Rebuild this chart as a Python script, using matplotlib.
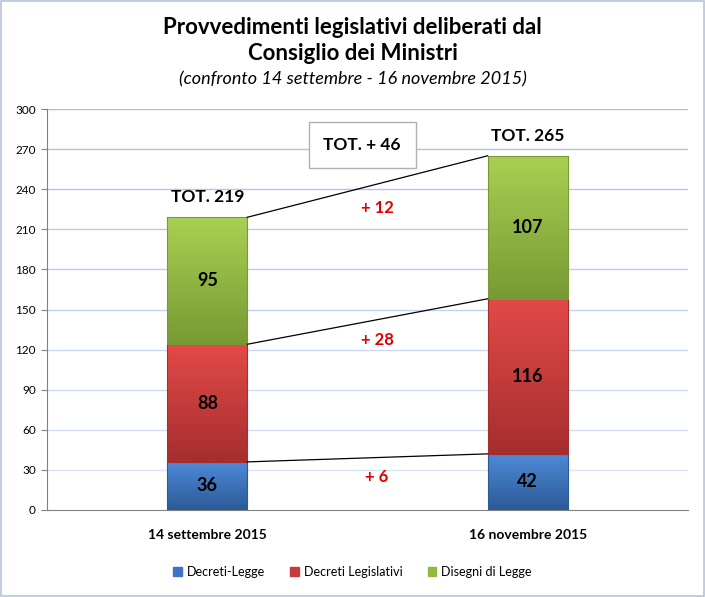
import numpy as np
import matplotlib.pyplot as plt
from matplotlib.colors import LinearSegmentedColormap

plt.rcParams['font.family'] = ['Lato', 'DejaVu Sans']

categorie = ["14 settembre 2015", "16 novembre 2015"]
serie = ["Decreti-Legge", "Decreti Legislativi", "Disegni di Legge"]
decreti_legge = [36, 42]
decreti_legislativi = [88, 116]
disegni_legge = [95, 107]
differenze = ["+ 6", "+ 28", "+ 12"]
pos_differenze = [25, 127, 226]
yticks = list(range(0, 301, 30))

colori = [("#4e8bd8", "#2c5a98"), ("#e24a48", "#a62e2e"), ("#a9d052", "#789a34")]
legenda_col = ["#3f74c4", "#c63c3a", "#92b840"]

fig = plt.figure(figsize=(7.05, 5.97), dpi=100)
ax = fig.add_axes([47 / 705, 87 / 597, 641 / 705, 401 / 597])

# bordo della figura
fig.patches.append(plt.Rectangle((0.002, 0.002), 0.996, 0.996, transform=fig.transFigure,
                                 fill=False, edgecolor="#b8c4d8", linewidth=1.2))

x = np.arange(len(categorie))
larg = 0.25
valori = [decreti_legge, decreti_legislativi, disegni_legge]
basi = np.zeros(len(categorie))

grad = np.linspace(1, 0, 100).reshape(-1, 1)
sommita = []
for k, vals in enumerate(valori):
    cmap = LinearSegmentedColormap.from_list("g%d" % k, [colori[k][1], colori[k][0]])
    barre = ax.bar(x, vals, larg, bottom=basi, color=legenda_col[k], edgecolor="none",
                   label=serie[k], zorder=3)
    for b in barre:
        bx, by = b.get_x(), b.get_y()
        bw, bh = b.get_width(), b.get_height()
        im = ax.imshow(grad, cmap=cmap, aspect="auto", zorder=3.5,
                       extent=[bx, bx + bw, by, by + bh], origin="upper")
        im.set_clip_path(b)
        ax.add_patch(plt.Rectangle((bx, by), bw, bh, fill=False, edgecolor=colori[k][1],
                                   linewidth=0.8, zorder=3.6))
        ax.text(bx + bw / 2, by + bh / 2, str(int(bh)), ha="center", va="center",
                fontsize=13, fontweight="bold", zorder=5)
    basi = basi + np.array(vals)
    sommita.append(basi.copy())

# linee di collegamento
for k, s in enumerate(sommita):
    ax.plot([x[0] + larg / 2, x[1] - larg / 2], [s[0], s[1]], color="black",
            linewidth=0.9, zorder=4)
    ax.text(0.53, pos_differenze[k], differenze[k], ha="center", va="center",
            color="#e00000", fontsize=12, fontweight="bold", zorder=5)

totali = sommita[-1]
for i in range(len(categorie)):
    ax.text(x[i], totali[i] + 9, "TOT. %d" % totali[i], ha="center", va="bottom",
            fontsize=12.5, fontweight="bold", zorder=5)

ax.text(0.483, 273, "TOT. + %d" % (totali[1] - totali[0]), ha="center", va="center",
        fontsize=12.5, fontweight="bold", zorder=6,
        bbox=dict(boxstyle="square,pad=0.85", facecolor="white", edgecolor="#b0b0b0",
                  linewidth=1))

ax.set_xlim(-0.5, 1.5)
ax.set_ylim(0, 300)
ax.set_yticks(yticks)
ax.set_xticks(x)
ax.set_xticklabels(categorie, fontweight="bold", fontsize=10)
ax.tick_params(axis="y", labelsize=8.5, length=4, color="#808080", pad=4)
ax.tick_params(axis="x", length=0, pad=14)

for j, t in enumerate(yticks[1:]):
    f = j / (len(yticks) - 2)
    c = (0.86 - 0.22 * f, 0.89 - 0.14 * f, 0.96 - 0.05 * f)
    ax.axhline(t, color=c, linewidth=1, zorder=1)

for lato in ["top", "right"]:
    ax.spines[lato].set_visible(False)
for lato in ["left", "bottom"]:
    ax.spines[lato].set_color("#808080")

fig.text(0.5, 1 - 27 / 597, "Provvedimenti legislativi deliberati dal", ha="center",
         va="center", fontsize=16, fontweight="bold")
fig.text(0.5, 1 - 53 / 597, "Consiglio dei Ministri", ha="center", va="center",
         fontsize=16, fontweight="bold")
fig.text(0.5, 1 - 79 / 597, "(confronto 14 settembre - 16 novembre 2015)", ha="center",
         va="center", fontsize=13, style="italic")

handles = [plt.Rectangle((0, 0), 1, 1, color=c) for c in legenda_col]
fig.legend(handles, serie, loc="center", bbox_to_anchor=(0.5, 1 - 572 / 597), ncol=3,
           frameon=False, fontsize=9, handlelength=0.7, handleheight=0.7,
           columnspacing=2.0, handletextpad=0.4)

fig.savefig("out.png", dpi=100)
